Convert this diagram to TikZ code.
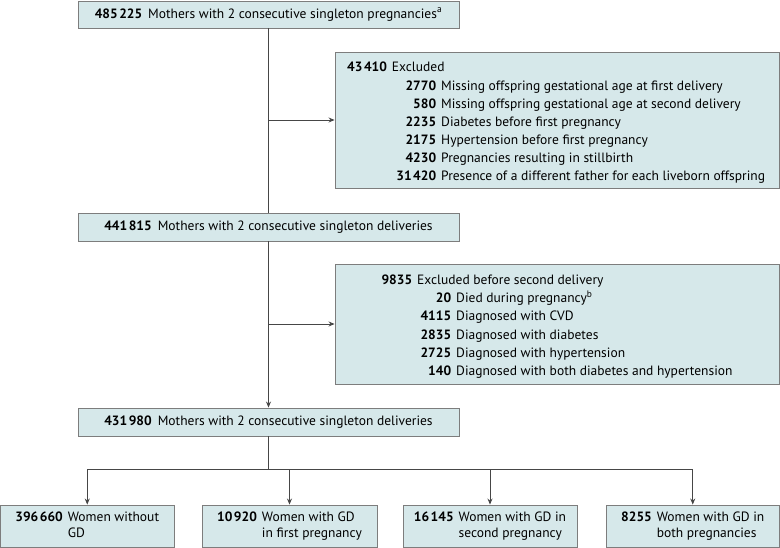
\documentclass[tikz,border=0pt]{standalone}
\usepackage{fontspec}
\setmainfont{PT Sans}
\usetikzlibrary{arrows.meta}
\definecolor{boxfill}{RGB}{214,232,234}
\definecolor{boxline}{RGB}{125,125,125}
\definecolor{conn}{RGB}{70,70,70}
\newcommand{\ts}{\hspace{1.5pt}}
\begin{document}
\begin{tikzpicture}[x=1pt,y=-1pt,
  font=\fontsize{13.5}{15}\selectfont,
  box/.style={draw=boxline, fill=boxfill, line width=0.9pt, inner sep=0pt},
  txt/.style={inner sep=0pt, anchor=base west},
  ln/.style={draw=conn, line width=0.8pt},
  arr/.style={draw=conn, line width=0.8pt, -{Stealth[length=6pt,width=5pt]}}]
\useasboundingbox (0,0) rectangle (780,548);
\renewcommand{\arraystretch}{1.07}
% main boxes
\node[box, minimum width=381pt, minimum height=27pt] (b1) at (268.5,14.5)
  {\textbf{485\ts225}\hspace{6pt}Mothers with 2 consecutive singleton pregnancies\textsuperscript{a}};
\node[box, minimum width=381pt, minimum height=28pt] (b2) at (268.5,227)
  {\textbf{441\ts815}\hspace{6pt}Mothers with 2 consecutive singleton deliveries};
\node[box, minimum width=381pt, minimum height=28pt] (b3) at (268.5,422)
  {\textbf{431\ts980}\hspace{6pt}Mothers with 2 consecutive singleton deliveries};
% exclusion boxes
\node[box, minimum width=444pt, minimum height=136pt] (e1) at (557,120) {};
\node[box, minimum width=444pt, minimum height=120pt] (e2) at (557,324) {};
\node[txt] (e1h) at (347,72) {\textbf{43\ts410}\hspace{5pt}Excluded};
\node[txt] (e1a) at (436,90.2) {\llap{\textbf{2770}}\hspace{5pt}Missing offspring gestational age at first delivery};
\node[txt] (e1b) at (436,108.3) {\llap{\textbf{580}}\hspace{5pt}Missing offspring gestational age at second delivery};
\node[txt] (e1c) at (436,126.3) {\llap{\textbf{2235}}\hspace{5pt}Diabetes before first pregnancy};
\node[txt] (e1d) at (436,144.4) {\llap{\textbf{2175}}\hspace{5pt}Hypertension before first pregnancy};
\node[txt] (e1e) at (436,162.4) {\llap{\textbf{4230}}\hspace{5pt}Pregnancies resulting in stillbirth};
\node[txt] (e1f) at (436,180.5) {\llap{\textbf{31\ts420}}\hspace{5pt}Presence of a different father for each liveborn offspring};
\node[txt] (e2h) at (412,284.6) {\llap{\textbf{9835}}\hspace{5pt}Excluded before second delivery};
\node[txt] (e2a) at (451,302.8) {\llap{\textbf{20}}\hspace{5pt}Died during pregnancy\textsuperscript{b}};
\node[txt] (e2b) at (451,321) {\llap{\textbf{4115}}\hspace{5pt}Diagnosed with CVD};
\node[txt] (e2c) at (451,339.2) {\llap{\textbf{2835}}\hspace{5pt}Diagnosed with diabetes};
\node[txt] (e2d) at (451,357.4) {\llap{\textbf{2725}}\hspace{5pt}Diagnosed with hypertension};
\node[txt] (e2e) at (451,375.6) {\llap{\textbf{140}}\hspace{5pt}Diagnosed with both diabetes and hypertension};
% bottom boxes
\node[box, minimum width=173.5pt, minimum height=42.5pt] (g1) at (87.25,526.25)
  {\begin{tabular}{@{}r@{\hspace{5pt}}l@{}}\textbf{396\ts660} & Women without\\ & GD\end{tabular}};
\node[box, minimum width=175pt, minimum height=42.5pt] (g2) at (289.5,526.25)
  {\begin{tabular}{@{}r@{\hspace{5pt}}l@{}}\textbf{10\ts920} & Women with GD\\ & in first pregnancy\end{tabular}};
\node[box, minimum width=174pt, minimum height=42.5pt] (g3) at (490,526.25)
  {\begin{tabular}{@{}r@{\hspace{5pt}}l@{}}\textbf{16\ts145} & Women with GD in\\ & second pregnancy\end{tabular}};
\node[box, minimum width=173.5pt, minimum height=42.5pt] (g4) at (692.75,526.25)
  {\begin{tabular}{@{}r@{\hspace{5pt}}l@{}}\textbf{8255} & Women with GD in\\ & both pregnancies\end{tabular}};
% connectors
\draw[ln] (b1.south) -- (b2.north);
\draw[arr] (b2.south) -- (b3.north);
\coordinate (j1) at (b1.south |- e1.west);
\coordinate (j2) at (b2.south |- e2.west);
\draw[arr] (j1) -- (e1.west);
\draw[arr] (j2) -- (e2.west);
\coordinate (br) at (268.5,469);
\draw[ln] (b3.south) -- (br);
\draw[arr] (br) -| (g1.north);
\draw[arr] (br) -| (g2.north);
\draw[arr] (br) -| (g3.north);
\draw[arr] (br) -| (g4.north);
\end{tikzpicture}
\end{document}
